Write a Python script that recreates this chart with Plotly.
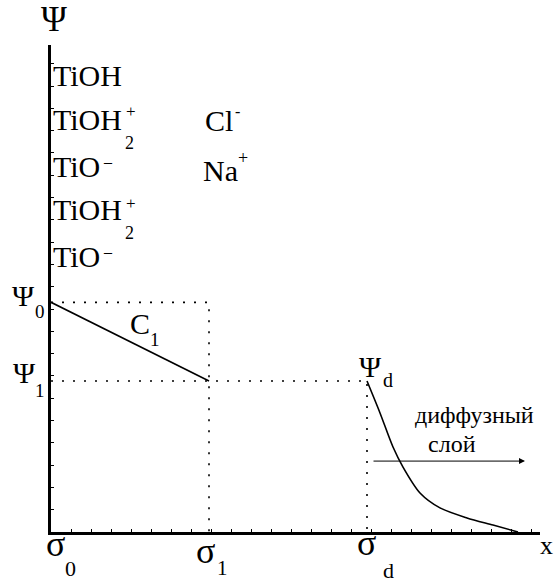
import plotly.graph_objects as go

# ---------------- data (arbitrary units) ----------------
sigma_names = ["σ0", "σ1", "σd"]
sigma_x = [0.0, 7.9, 15.8]          # positions of planes σ0, σ1, σd
psi_names = ["Ψ0", "Ψ1"]
psi_y = [10.3, 6.77]                # potentials Ψ0, Ψ1 (Ψd = Ψ1)

# linear drop in the compact (Stern) layer
stern_x = [sigma_x[0], sigma_x[1]]
stern_y = [psi_y[0], psi_y[1]]

# diffuse layer potential decay
diffuse_x = [15.8, 16.45, 17.1, 17.6, 18.45, 19.45, 20.8, 22.1, 23.35]
diffuse_y = [6.77, 5.34, 3.81, 2.91, 1.75, 1.08, 0.63, 0.31, 0.0]

# arrow "диффузный слой"
arrow_x = [16.05, 23.7]
arrow_y = 3.18

x_max = 24.45
y_max = 21.84

# ---------------- figure ----------------
W, H = 555, 582
X0, X1 = 51, 540     # plot area in pixels
YB, YT = 532, 45

FONT = "Liberation Serif"

fig = go.Figure()

dot = dict(color="black", width=1.6, dash="2px,9px")
# dotted guide lines
fig.add_trace(go.Scatter(x=[0, sigma_x[1], sigma_x[1]], y=[psi_y[0], psi_y[0], 0],
                         mode="lines", line=dot, hoverinfo="skip", cliponaxis=False))
fig.add_trace(go.Scatter(x=[0, sigma_x[2], sigma_x[2]], y=[psi_y[1], psi_y[1], 0],
                         mode="lines", line=dot, hoverinfo="skip", cliponaxis=False))
# stern line
fig.add_trace(go.Scatter(x=stern_x, y=stern_y, mode="lines",
                         line=dict(color="black", width=1.6), hoverinfo="skip"))
# diffuse curve
fig.add_trace(go.Scatter(x=diffuse_x, y=diffuse_y, mode="lines",
                         line=dict(color="black", width=1.6, shape="spline", smoothing=0.8),
                         hoverinfo="skip", cliponaxis=False))

ann = []
# arrow
ann.append(dict(x=arrow_x[1], y=arrow_y, ax=arrow_x[0], ay=arrow_y, xref="x", yref="y",
                axref="x", ayref="y", text="", showarrow=True, arrowhead=2,
                arrowsize=1.2, arrowwidth=1, arrowcolor="black", standoff=0))


def pxp(x):
    return (x - X0) / (X1 - X0)


def pyp(y):
    return (YB - y) / (YB - YT)


def lab(text, x, y, size, xanchor="center", yanchor="middle"):
    ann.append(dict(text=text, x=pxp(x), y=pyp(y), xref="paper", yref="paper",
                    showarrow=False, xanchor=xanchor, yanchor=yanchor,
                    font=dict(family=FONT, size=size, color="black")))


# axis names
lab("Ψ", 54, 20, 35)
lab("x", 546, 545, 26)

# surface species
lab("TiOH", 51, 75, 30, "left")
lab("TiOH", 51, 119, 30, "left")
lab("+", 131, 112, 17)
lab("2", 129, 143, 18)
lab("TiO", 51, 166, 30, "left")
lab("–", 108, 161, 16)
lab("TiOH", 51, 209, 30, "left")
lab("+", 131, 203, 17)
lab("2", 129, 233, 18)
lab("TiO", 51, 256, 30, "left")
lab("–", 108, 251, 16)

# counter ions
lab("Cl", 219, 120, 30)
lab("-", 237, 111, 16)
lab("Na", 220, 170, 30)
lab("+", 243, 158, 18)

# potentials
lab("Ψ", 23, 295, 30)
lab("0", 40, 311, 19)
lab("Ψ", 24, 372, 30)
lab("1", 40, 390, 19)
lab("Ψ", 370, 366, 30)
lab("d", 388, 380, 20)
lab("C", 140, 323, 30)
lab("1", 155, 340, 19)

# planes
lab("σ", 55, 544, 36)
lab("0", 70, 568, 22)
lab("σ", 205, 551, 36)
lab("1", 222, 582, 21, yanchor="bottom")
lab("σ", 366, 543, 36)
lab("d", 388, 570, 22)

# diffuse layer text
lab("диффузный", 474, 415, 24)
lab("слой", 452, 444, 24)

axis_common = dict(showgrid=False, zeroline=False, showline=True, linecolor="black",
                   linewidth=3, ticks="inside", ticklen=3, tickwidth=1, tickcolor="black",
                   showticklabels=False, tick0=0, dtick=1, fixedrange=True)

fig.update_layout(
    width=W, height=H,
    margin=dict(l=X0, r=W - X1, t=YT, b=H - YB),
    paper_bgcolor="white", plot_bgcolor="white",
    showlegend=False,
    xaxis=dict(range=[0, x_max], **axis_common),
    yaxis=dict(range=[0, y_max], **axis_common),
    annotations=ann,
)

fig.write_html("out.html")
